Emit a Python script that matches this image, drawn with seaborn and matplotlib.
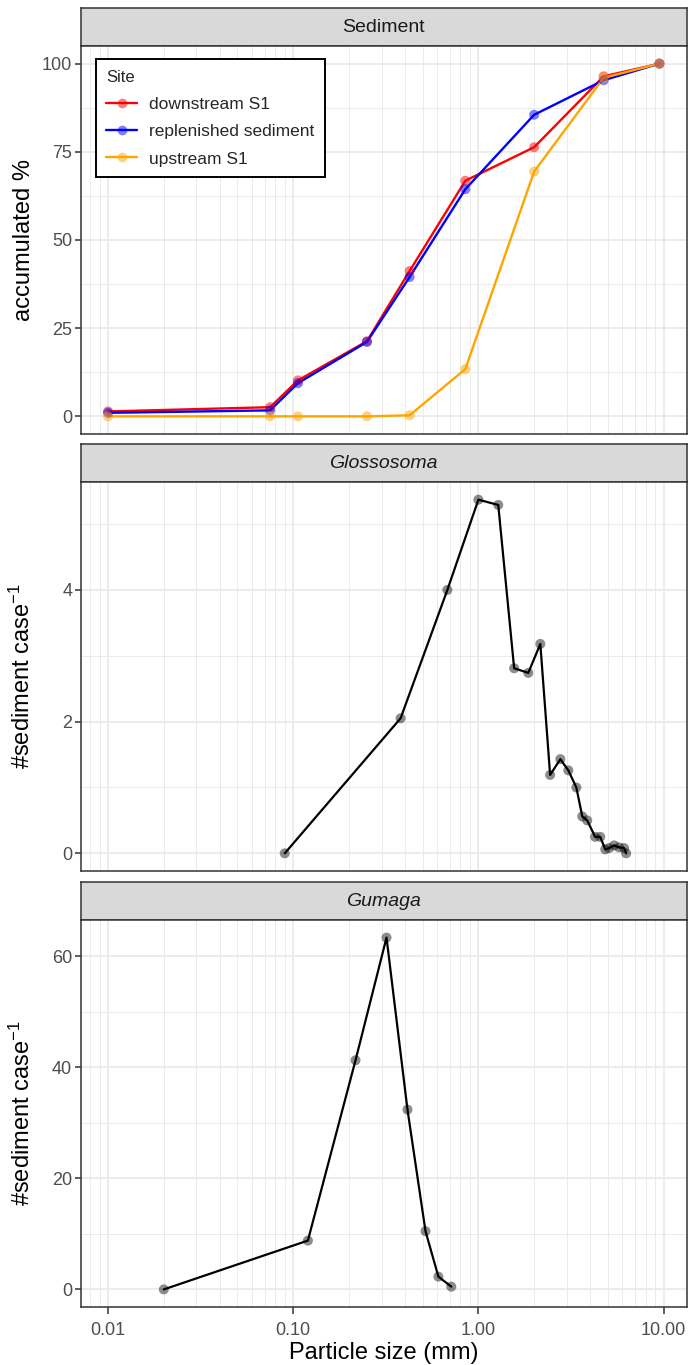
import matplotlib
matplotlib.use("Agg")
import matplotlib.pyplot as plt
import matplotlib.ticker as ticker
from matplotlib.lines import Line2D
from matplotlib.colors import to_rgba
import seaborn as sns
import numpy as np
import pandas as pd

# Sediment grain size curves (accumulated %)
sed_size = [0.01, 0.075, 0.106, 0.25, 0.425, 0.85, 2.0, 4.75, 9.5]
downstream = [1.4, 2.6, 10.2, 21.3, 41.2, 66.8, 76.3, 96.4, 100]
replenished = [1.0, 1.7, 9.4, 21.1, 39.5, 64.4, 85.5, 95.3, 100]
upstream = [0.0, 0.0, 0.0, 0.0, 0.3, 13.4, 69.4, 96.0, 100]
sites = ["downstream S1", "replenished sediment", "upstream S1"]
site_colors = ["red", "blue", "orange"]

# Glossosoma case particle sizes
glo_size = [0.09, 0.38, 0.68, 1.0, 1.28, 1.56, 1.86, 2.16, 2.44, 2.77, 3.06,
            3.38, 3.64, 3.87, 4.27, 4.55, 4.84, 5.08, 5.41, 5.75, 6.12, 6.28]
glo_count = [0, 2.05, 4.0, 5.37, 5.29, 2.81, 2.74, 3.18, 1.19, 1.43, 1.26,
             1.0, 0.56, 0.5, 0.25, 0.25, 0.06, 0.08, 0.12, 0.09, 0.08, 0.0]

# Gumaga case particle sizes
gum_size = [0.02, 0.12, 0.217, 0.319, 0.414, 0.518, 0.608, 0.714]
gum_count = [0, 8.8, 41.3, 63.4, 32.4, 10.5, 2.3, 0.5]

x_ticks = [0.01, 0.1, 1, 10]
x_ticklabels = ["0.01", "0.10", "1.00", "10.00"]

# Parameters
W, H = 690, 1365
left_px, right_px = 80.5, 687
grid_col = "#EBEBEB"
border_col = "#333333"

sns.set_theme(style="white")
plt.rcParams['font.family'] = ['Liberation Sans', 'DejaVu Sans']
plt.rcParams['mathtext.default'] = 'regular'


def box(top, bottom):
    return [left_px / W, 1 - bottom / H, (right_px - left_px) / W, (bottom - top) / H]


def expand(lo, hi):
    pad = 0.05 * (hi - lo)
    return lo - pad, hi + pad


sed = pd.DataFrame({
    "size": sed_size * 3,
    "pct": downstream + replenished + upstream,
    "Site": np.repeat(sites, len(sed_size)),
})
glo = pd.DataFrame({"size": glo_size, "count": glo_count})
gum = pd.DataFrame({"size": gum_size, "count": gum_count})

all_x = np.log10(sed_size + glo_size + gum_size)
xlo, xhi = expand(all_x.min(), all_x.max())
xlim = (10 ** xlo, 10 ** xhi)

fig = plt.figure(figsize=(W / 100, H / 100), dpi=100)

panels = [
    ("Sediment", "normal", 8, 46, 434),
    ("Glossosoma", "italic", 444, 482, 871),
    ("Gumaga", "italic", 882, 920, 1307),
]
axes = []
for title, style, s_top, a_top, a_bot in panels:
    ax_s = fig.add_axes(box(s_top, a_top))
    ax_s.set_facecolor("#D9D9D9")
    ax_s.set_xticks([])
    ax_s.set_yticks([])
    for sp in ax_s.spines.values():
        sp.set_color(border_col)
        sp.set_linewidth(1.1)
    ax_s.text(0.5, 0.5, title, ha="center", va="center", fontsize=14,
              color="#1A1A1A", style=style, transform=ax_s.transAxes)
    ax = fig.add_axes(box(a_top, a_bot))
    axes.append(ax)

ax1, ax2, ax3 = axes

# Sediment
pal = dict(zip(sites, site_colors))
sns.lineplot(data=sed, x="size", y="pct", hue="Site", palette=pal, estimator=None,
             sort=False, linewidth=1.7, legend=False, ax=ax1, zorder=2)
sns.scatterplot(data=sed, x="size", y="pct", hue="Site", palette=pal, s=52,
                alpha=0.5, edgecolor="none", legend=False, ax=ax1, zorder=3)
ax1.set_ylim(*expand(0, 100))
ax1.yaxis.set_major_locator(ticker.FixedLocator([0, 25, 50, 75, 100]))
ax1.yaxis.set_minor_locator(ticker.FixedLocator([12.5, 37.5, 62.5, 87.5]))
ax1.set_ylabel("accumulated %", fontsize=17, color="black")

handles = [Line2D([0], [0], color=c, lw=1.7, marker="o", markersize=7,
                  markerfacecolor=to_rgba(c, 0.5), markeredgecolor="none")
           for c in site_colors]
leg = ax1.legend(handles, sites, title="Site", loc="upper left",
                 bbox_to_anchor=(0.0256, 0.966), borderaxespad=0, frameon=True,
                 fancybox=False, edgecolor="black", framealpha=1, fontsize=12.5,
                 title_fontsize=12, alignment="left", handlelength=1.75,
                 borderpad=0.6, labelspacing=0.7, handletextpad=0.7)
leg.get_frame().set_linewidth(1.4)

# Glossosoma
sns.lineplot(data=glo, x="size", y="count", color="black", estimator=None,
             sort=False, linewidth=1.6, ax=ax2, zorder=2)
sns.scatterplot(data=glo, x="size", y="count", color="black", s=52, alpha=0.45,
                edgecolor="none", ax=ax2, zorder=3)
ax2.set_ylim(*expand(0, max(glo_count)))
ax2.yaxis.set_major_locator(ticker.FixedLocator([0, 2, 4]))
ax2.yaxis.set_minor_locator(ticker.FixedLocator([1, 3, 5]))
ax2.set_ylabel("#sediment case$^{-1}$", fontsize=17, color="black")

# Gumaga
sns.lineplot(data=gum, x="size", y="count", color="black", estimator=None,
             sort=False, linewidth=1.6, ax=ax3, zorder=2)
sns.scatterplot(data=gum, x="size", y="count", color="black", s=52, alpha=0.45,
                edgecolor="none", ax=ax3, zorder=3)
ax3.set_ylim(*expand(0, max(gum_count)))
ax3.yaxis.set_major_locator(ticker.FixedLocator([0, 20, 40, 60]))
ax3.yaxis.set_minor_locator(ticker.FixedLocator([10, 30, 50]))
ax3.set_ylabel("#sediment case$^{-1}$", fontsize=17, color="black")
ax3.set_xlabel("Particle size (mm)", fontsize=17, color="black", labelpad=2)

for ax in axes:
    ax.set_xscale("log")
    ax.set_xlim(*xlim)
    ax.xaxis.set_major_locator(ticker.FixedLocator(x_ticks))
    ax.xaxis.set_minor_locator(ticker.LogLocator(base=10, subs=range(2, 10), numticks=20))
    ax.xaxis.set_minor_formatter(ticker.NullFormatter())
    ax.set_facecolor("white")
    ax.set_axisbelow(True)
    ax.grid(which="major", color=grid_col, linewidth=1.3)
    ax.grid(which="minor", color=grid_col, linewidth=0.7)
    for sp in ax.spines.values():
        sp.set_color(border_col)
        sp.set_linewidth(1.1)
    ax.tick_params(axis="y", which="major", left=True, length=4, width=1.1,
                   color=border_col, labelcolor="#4D4D4D", labelsize=13, pad=2)
    ax.tick_params(which="minor", length=0)
    ax.yaxis.set_label_coords(-0.075, 0.5)
    if ax is ax3:
        ax.xaxis.set_major_formatter(ticker.FixedFormatter(x_ticklabels))
        ax.tick_params(axis="x", which="major", bottom=True, length=5, width=1.1,
                       color=border_col, labelcolor="#4D4D4D", labelsize=13, pad=6)
    else:
        ax.set_xlabel("")
        ax.tick_params(axis="x", which="major", bottom=False, labelbottom=False)

fig.savefig("out.png", dpi=100)
